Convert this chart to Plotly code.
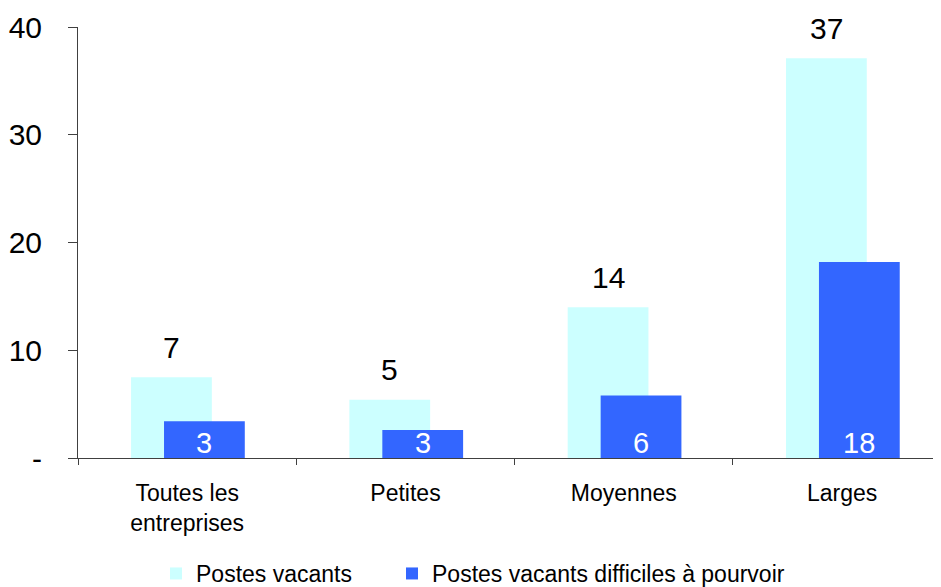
import plotly.graph_objects as go

categories = ["Toutes les<br>entreprises", "Petites", "Moyennes", "Larges"]
postes_vacants = [7.5, 5.4, 14.0, 37.1]
postes_difficiles = [3.4, 2.6, 5.8, 18.2]
label_vacants = ["7", "5", "14", "37"]
label_difficiles = ["3", "3", "6", "18"]
y_tickvals = [0, 10, 20, 30, 40]
y_ticktext = ["-", "10", "20", "30", "40"]

FONT = "Liberation Sans, Arial, sans-serif"
CYAN = "#CCFFFF"
BLUE = "#3366FF"
W = 0.37
OFF_CYAN = -0.257
OFF_BLUE = -0.106

fig = go.Figure()
fig.add_trace(go.Bar(
    x=categories, y=postes_vacants, name="Postes vacants",
    marker=dict(color=CYAN, line=dict(width=0)),
    width=W, offset=OFF_CYAN, legend="legend",
))
fig.add_trace(go.Bar(
    x=categories, y=postes_difficiles, name="Postes vacants difficiles à pourvoir",
    marker=dict(color=BLUE, line=dict(width=0)),
    width=W, offset=OFF_BLUE, legend="legend2",
))

annotations = []
for i, (v, t) in enumerate(zip(postes_vacants, label_vacants)):
    annotations.append(dict(
        x=i + OFF_CYAN + W / 2, y=v, xref="x", yref="y", text=t,
        showarrow=False, yanchor="middle", xanchor="center", yshift=30,
        font=dict(family=FONT, size=30, color="black"),
    ))
for i, (v, t) in enumerate(zip(postes_difficiles, label_difficiles)):
    annotations.append(dict(
        x=i + OFF_BLUE + W / 2, y=0, xref="x", yref="y", text=t,
        showarrow=False, yanchor="middle", xanchor="center", yshift=15,
        font=dict(family=FONT, size=29, color="white"),
    ))

legend_common = dict(
    orientation="h", yanchor="middle", y=-0.268,
    font=dict(family=FONT, size=23, color="black"),
    bgcolor="rgba(0,0,0,0)", xanchor="left",
)

fig.update_layout(
    width=933, height=579,
    margin=dict(l=70, r=0, t=19, b=129, autoexpand=False),
    barmode="overlay",
    plot_bgcolor="white", paper_bgcolor="white",
    font=dict(family=FONT, size=23, color="black"),
    showlegend=True,
    legend=dict(legend_common, x=78 / 863),
    legend2=dict(legend_common, x=314 / 863),
    annotations=annotations,
)
fig.update_xaxes(
    type="category", range=[-0.5, 3.453], automargin=False,
    showline=True, linecolor="#404040", linewidth=1,
    ticks="outside", tickson="boundaries", ticklen=6, tickcolor="#404040",
    showgrid=False, zeroline=False,
    tickfont=dict(family=FONT, size=23, color="black"),
    ticklabelstandoff=14,
)
fig.update_yaxes(
    range=[0, 40], tickvals=y_tickvals, ticktext=y_ticktext, automargin=False,
    showline=True, linecolor="#404040", linewidth=1,
    ticks="outside", ticklen=9, tickcolor="#404040",
    showgrid=False, zeroline=False,
    tickfont=dict(family=FONT, size=30, color="black"),
    ticklabelstandoff=20,
)

fig.write_html("out.html")
